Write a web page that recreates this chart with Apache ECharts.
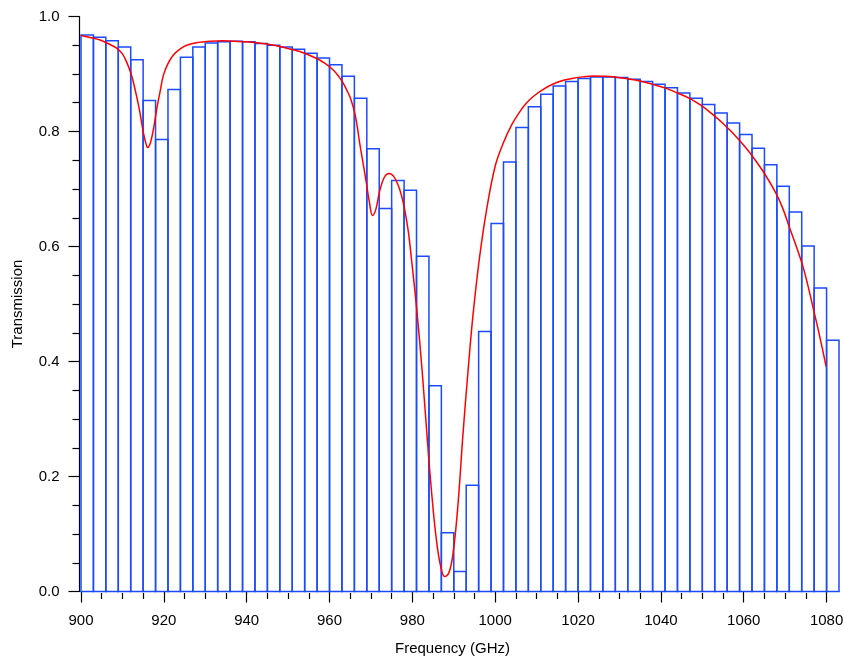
<!DOCTYPE html>
<html>
<head>
<meta charset="utf-8">
<script src="https://cdn.jsdelivr.net/npm/echarts@6/dist/echarts.min.js"></script>
<style>
html,body{margin:0;padding:0;background:#fff;overflow:hidden;}
#chart{width:845px;height:659px;}
</style>
</head>
<body>
<div id="chart"></div>
<script>
// ---- data ----
const barStarts = [900,903,906,909,912,915,918,921,924,927,
  930,933,936,939,942,945,948,951,954,957,
  960,963,966,969,972,975,978,981,984,987,
  990,993,996,999,1002,1005,1008,1011,1014,1017,
  1020,1023,1026,1029,1032,1035,1038,1041,1044,1047,
  1050,1053,1056,1059,1062,1065,1068,1071,1074,1077,
  1080];
const barValues = [0.968,0.964,0.958,0.947,0.925,0.854,0.786,0.873,0.929,0.947,
  0.954,0.956,0.957,0.956,0.953,0.950,0.947,0.943,0.936,0.928,
  0.916,0.896,0.858,0.770,0.666,0.715,0.698,0.583,0.358,0.102,
  0.035,0.185,0.452,0.640,0.747,0.807,0.843,0.865,0.879,0.887,
  0.892,0.895,0.895,0.894,0.891,0.887,0.882,0.876,0.867,0.858,
  0.847,0.832,0.815,0.795,0.771,0.742,0.705,0.660,0.601,0.528,
  0.437];
const curveFreq = [900.0,902.5,904.6,906.5,908.6,910.0,911.0,912.0,912.6,913.4,
  914.2,915.0,915.6,916.1,916.6,917.1,917.7,918.3,919.0,919.9,
  921.0,922.3,923.8,925.5,928.3,931.0,934.0,937.0,940.0,944.8,
  948.5,952.8,956.9,959.0,960.9,962.3,963.3,964.3,965.1,966.1,
  966.7,967.3,968.1,968.9,969.6,970.4,971.2,972.1,973.2,974.4,
  975.5,976.6,977.4,978.2,979.0,979.8,981.0,982.4,983.8,984.8,
  985.8,986.8,987.8,988.8,989.8,991.0,992.2,993.4,994.6,996.2,
  997.9,1000.0,1001.9,1004.0,1006.0,1007.5,1009.1,1011.5,1014.0,1016.5,
  1018.8,1021.0,1023.6,1026.0,1028.4,1031.5,1034.9,1038.0,1041.3,1044.0,
  1046.9,1049.8,1052.5,1055.0,1057.4,1060.0,1062.2,1065.0,1067.8,1069.5,
  1071.0,1072.7,1074.3,1075.5,1076.7,1078.3,1079.9];
const curveValue = [0.967,0.963,0.959,0.953,0.945,0.935,0.921,0.902,0.887,0.862,
  0.834,0.800,0.781,0.772,0.777,0.790,0.813,0.840,0.866,0.898,
  0.918,0.933,0.943,0.950,0.955,0.957,0.958,0.957,0.956,0.952,
  0.947,0.939,0.927,0.918,0.907,0.895,0.884,0.870,0.857,0.832,
  0.808,0.779,0.745,0.710,0.678,0.654,0.665,0.696,0.720,0.727,
  0.722,0.706,0.688,0.662,0.627,0.577,0.495,0.380,0.246,0.160,
  0.090,0.045,0.026,0.032,0.065,0.150,0.272,0.380,0.478,0.580,
  0.663,0.740,0.779,0.812,0.835,0.849,0.8605,0.873,0.8826,0.889,
  0.8925,0.895,0.8965,0.8962,0.8953,0.892,0.888,0.882,0.875,0.867,
  0.8577,0.845,0.8297,0.814,0.797,0.776,0.756,0.727,0.6925,0.665,
  0.634,0.600,0.565,0.532,0.495,0.445,0.391];
const xMajorTicks = [900,920,940,960,980,1000,1020,1040,1060,1080];
const xMinorTicks = [905,910,915,925,930,935,945,950,955,965,970,975,985,990,995,
  1005,1010,1015,1025,1030,1035,1045,1050,1055,1065,1070,1075];
const BAR_WIDTH = 3;

const FONT = "'Liberation Sans', Arial, Helvetica, sans-serif";
const BAR_COLOR = '#1a4bff';

const chart = echarts.init(document.getElementById('chart'), null, {renderer: 'canvas'});
const barData = barStarts.map((s, i) => [s, barValues[i]]);
const curveData = curveFreq.map((f, i) => [f, curveValue[i]]);

const axisCommon = {
  type: 'value', min: 900, max: 1083, position: 'bottom', offset: 1.5,
  splitLine: {show: false}
};

chart.setOption({
  animation: false,
  backgroundColor: '#fff',
  grid: {left: 81, right: 6, top: 16.5, bottom: 67.5, containLabel: false, outerBoundsMode: 'none'},
  xAxis: [
    Object.assign({}, axisCommon, {
      axisLine: {show: true, lineStyle: {color: '#000', width: 1.2}},
      axisTick: {show: true, length: 11, customValues: xMajorTicks, lineStyle: {color: '#000', width: 1.2}},
      axisLabel: {show: true, customValues: xMajorTicks, formatter: v => String(v), margin: 20,
        color: '#000', fontSize: 15, fontFamily: FONT, hideOverlap: false},
      name: 'Frequency (GHz)', nameLocation: 'middle', nameGap: 48,
      nameTextStyle: {color: '#000', fontSize: 15, fontFamily: FONT, padding: [0, 15, 0, 0]}
    }),
    Object.assign({}, axisCommon, {
      axisLine: {show: false},
      axisTick: {show: true, length: 6, customValues: xMinorTicks, lineStyle: {color: '#000', width: 1.2}},
      axisLabel: {show: false}
    })
  ],
  yAxis: {
    type: 'value', min: 0, max: 1, interval: 0.2, offset: 1.5,
    axisLine: {show: true, lineStyle: {color: '#000', width: 1.2}},
    axisTick: {show: true, length: 11, lineStyle: {color: '#000', width: 1.2}},
    minorTick: {show: true, splitNumber: 4, length: 7, lineStyle: {color: '#000', width: 1.2}},
    splitLine: {show: false}, minorSplitLine: {show: false},
    axisLabel: {formatter: v => v.toFixed(1), margin: 20, color: '#000', fontSize: 15, fontFamily: FONT},
    name: 'Transmission', nameLocation: 'middle', nameGap: 54,
    nameTextStyle: {color: '#000', fontSize: 15, fontFamily: FONT}
  },
  series: [
    {
      type: 'custom', xAxisIndex: 0, yAxisIndex: 0,
      data: barData,
      encode: {x: 0, y: 1},
      clip: false,
      renderItem: function (params, api) {
        const x0 = api.value(0), v = api.value(1);
        const p0 = api.coord([x0, 0]);
        const p1 = api.coord([x0 + BAR_WIDTH, v]);
        return {
          type: 'rect',
          shape: {x: p0[0], y: p1[1], width: p1[0] - p0[0], height: p0[1] - p1[1]},
          style: {fill: 'rgba(0,0,0,0)', stroke: BAR_COLOR, lineWidth: 1.5}
        };
      },
      z: 2
    },
    {
      type: 'line', xAxisIndex: 0, yAxisIndex: 0,
      data: curveData, showSymbol: false, symbol: 'none',
      smooth: 0.4,
      lineStyle: {color: '#ff0000', width: 1.5},
      z: 3
    }
  ]
});
</script>
</body>
</html>
